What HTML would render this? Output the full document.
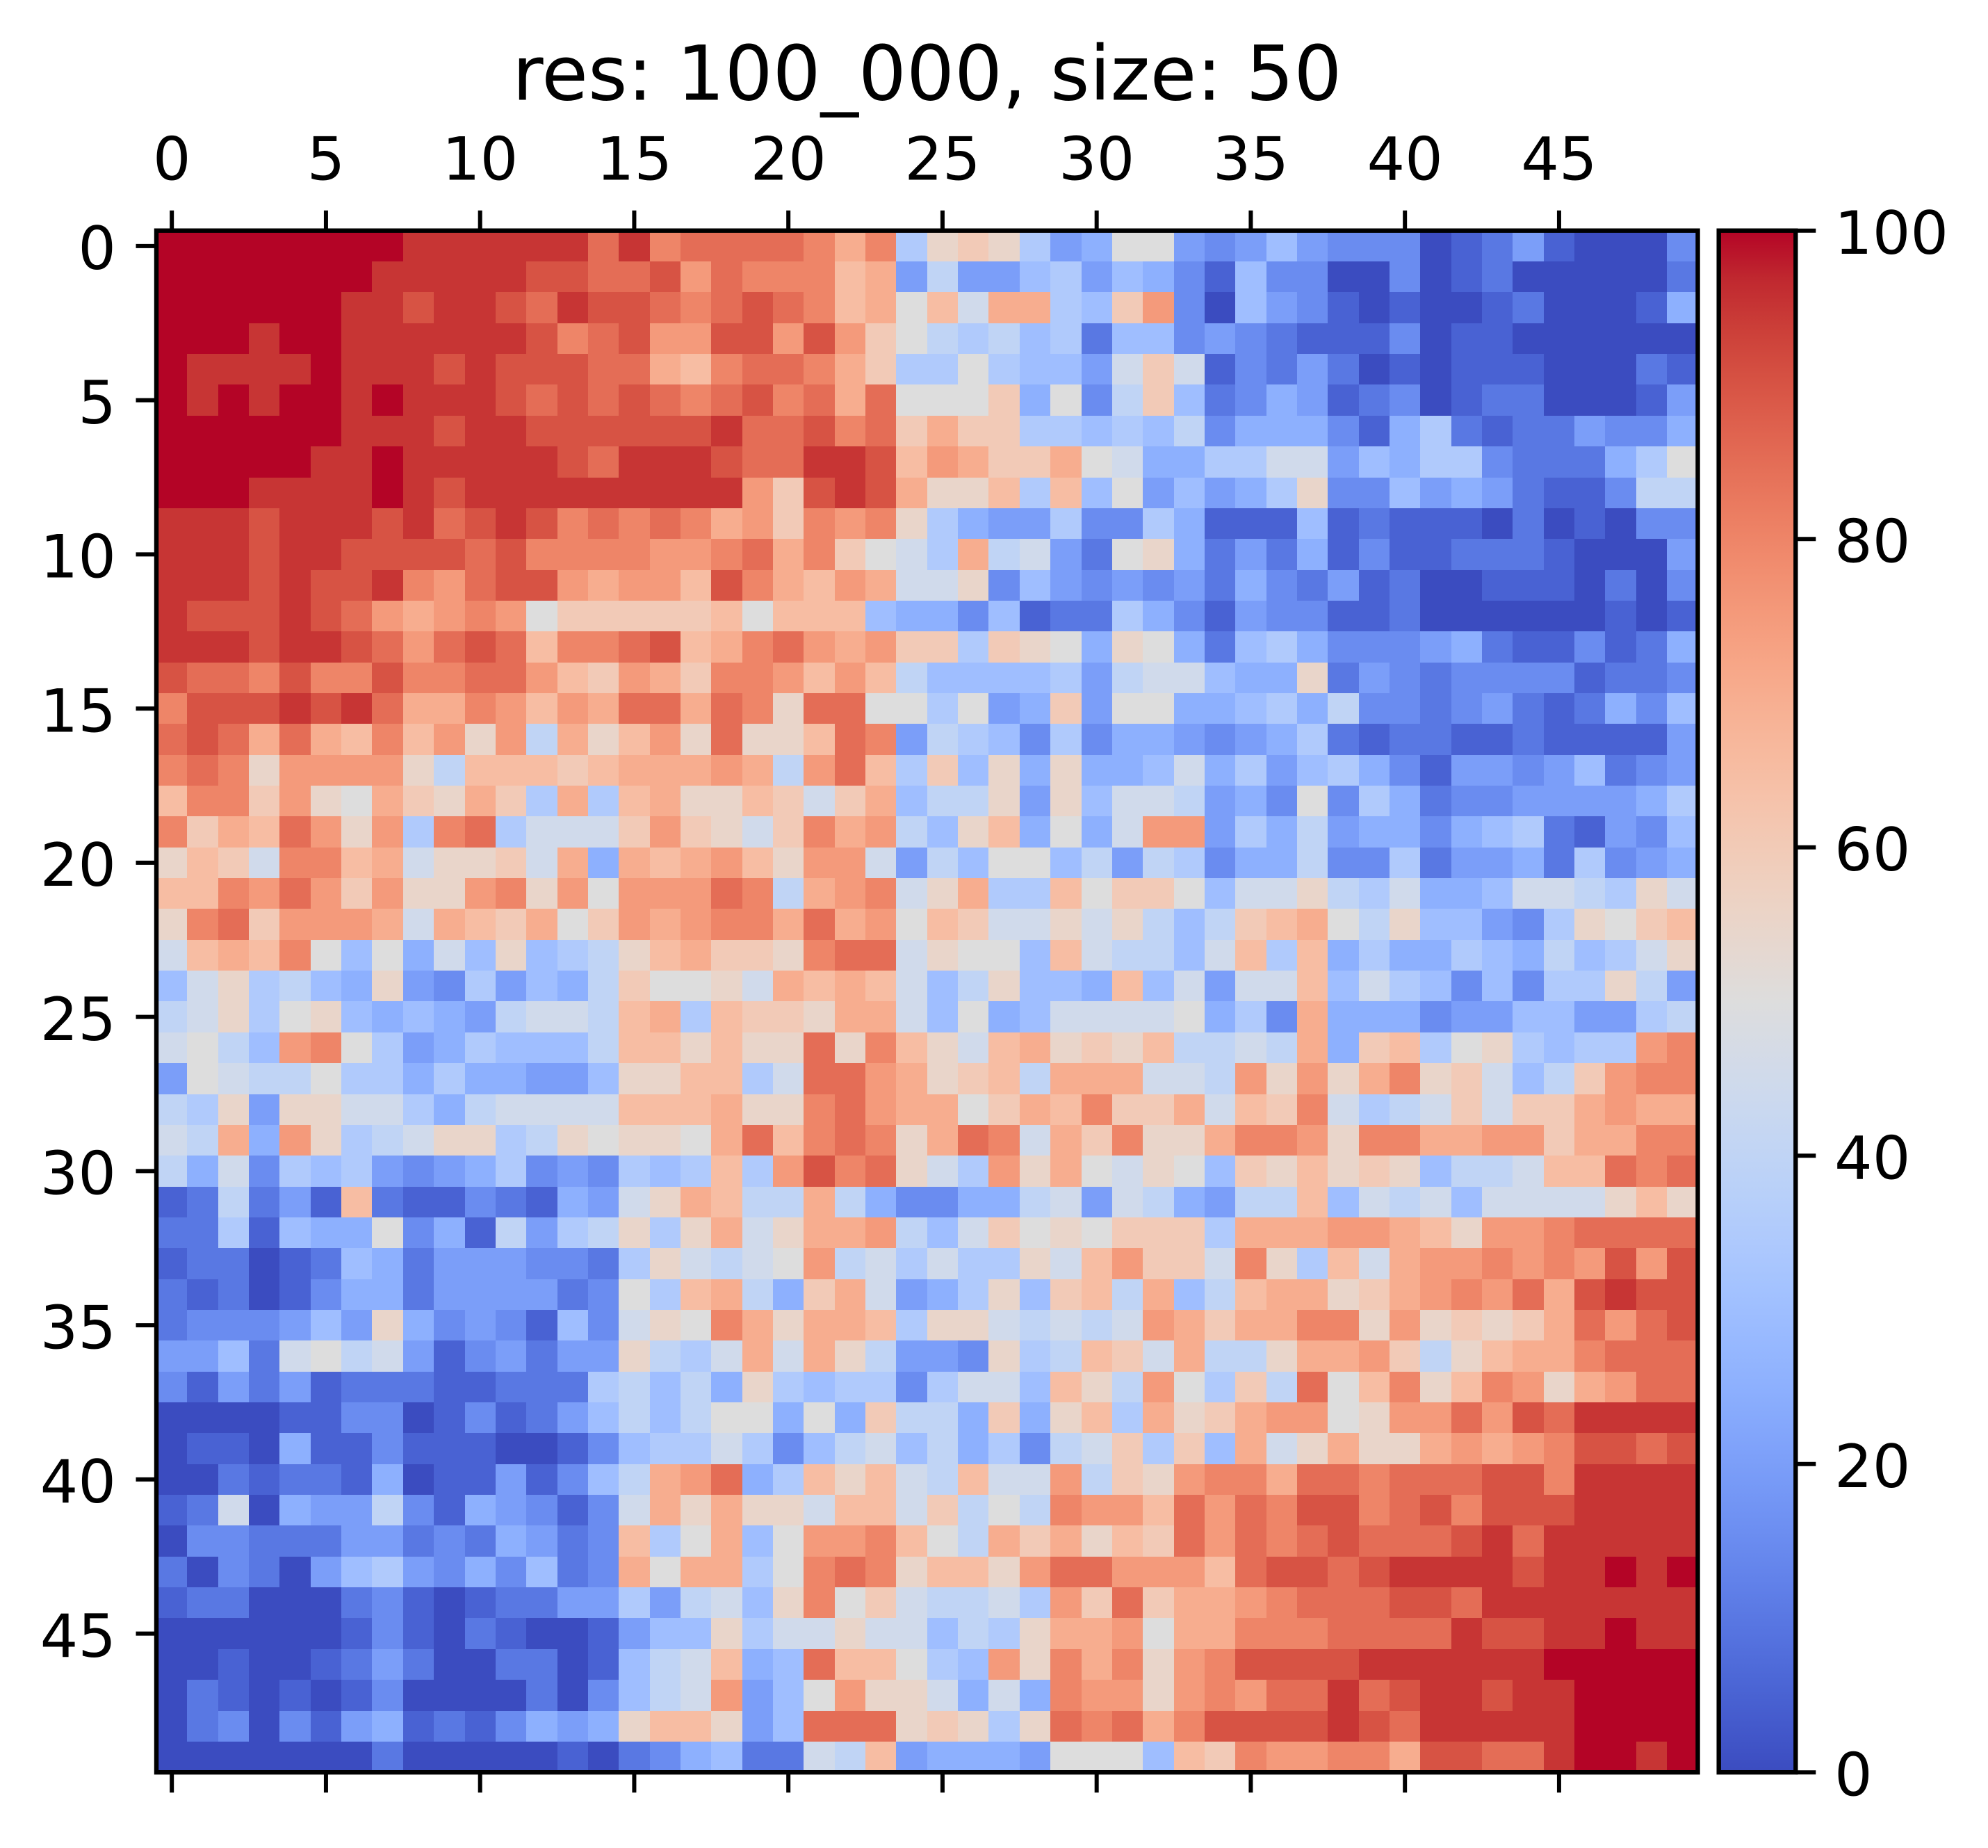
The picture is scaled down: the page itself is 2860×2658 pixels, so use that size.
<!DOCTYPE html>
<html><head><meta charset="utf-8">
<style>
html,body{margin:0;padding:0;background:#fff;}
svg{display:block;}
</style></head>
<body>
<svg id="s" width="2860" height="2658" viewBox="0 0 2860 2658" xmlns="http://www.w3.org/2000/svg" font-family="'DejaVu Sans','Liberation Sans',sans-serif" fill="#000">
<defs><linearGradient id="cb" x1="0" y1="1" x2="0" y2="0"></linearGradient></defs>
<rect x="0" y="0" width="2860" height="2658" fill="#fff"/>
<g id="hm" shape-rendering="crispEdges"></g>
<rect x="2472.7" y="331.7" width="110.6" height="2217.5" fill="url(#cb)"/>
<rect x="225" y="331.7" width="2217.5" height="2217.5" fill="none" stroke="#000" stroke-width="6.4"/>
<rect x="2472.7" y="331.7" width="110.6" height="2217.5" fill="none" stroke="#000" stroke-width="6.4"/>
<g stroke="#000" stroke-width="6">
<line x1="247.18" y1="302.7" x2="247.18" y2="331.7"/>
<line x1="468.93" y1="302.7" x2="468.93" y2="331.7"/>
<line x1="690.68" y1="302.7" x2="690.68" y2="331.7"/>
<line x1="912.43" y1="302.7" x2="912.43" y2="331.7"/>
<line x1="1134.18" y1="302.7" x2="1134.18" y2="331.7"/>
<line x1="1355.93" y1="302.7" x2="1355.93" y2="331.7"/>
<line x1="1577.68" y1="302.7" x2="1577.68" y2="331.7"/>
<line x1="1799.43" y1="302.7" x2="1799.43" y2="331.7"/>
<line x1="2021.18" y1="302.7" x2="2021.18" y2="331.7"/>
<line x1="2242.93" y1="302.7" x2="2242.93" y2="331.7"/>
<line x1="247.18" y1="2549.2" x2="247.18" y2="2578.3"/>
<line x1="468.93" y1="2549.2" x2="468.93" y2="2578.3"/>
<line x1="690.68" y1="2549.2" x2="690.68" y2="2578.3"/>
<line x1="912.43" y1="2549.2" x2="912.43" y2="2578.3"/>
<line x1="1134.18" y1="2549.2" x2="1134.18" y2="2578.3"/>
<line x1="1355.93" y1="2549.2" x2="1355.93" y2="2578.3"/>
<line x1="1577.68" y1="2549.2" x2="1577.68" y2="2578.3"/>
<line x1="1799.43" y1="2549.2" x2="1799.43" y2="2578.3"/>
<line x1="2021.18" y1="2549.2" x2="2021.18" y2="2578.3"/>
<line x1="2242.93" y1="2549.2" x2="2242.93" y2="2578.3"/>
<line x1="195.5" y1="353.88" x2="225" y2="353.88"/>
<line x1="195.5" y1="575.63" x2="225" y2="575.63"/>
<line x1="195.5" y1="797.38" x2="225" y2="797.38"/>
<line x1="195.5" y1="1019.13" x2="225" y2="1019.13"/>
<line x1="195.5" y1="1240.88" x2="225" y2="1240.88"/>
<line x1="195.5" y1="1462.63" x2="225" y2="1462.63"/>
<line x1="195.5" y1="1684.38" x2="225" y2="1684.38"/>
<line x1="195.5" y1="1906.13" x2="225" y2="1906.13"/>
<line x1="195.5" y1="2127.88" x2="225" y2="2127.88"/>
<line x1="195.5" y1="2349.63" x2="225" y2="2349.63"/>
<line x1="2583.3" y1="2549.2" x2="2612.3" y2="2549.2"/>
<line x1="2583.3" y1="2105.7" x2="2612.3" y2="2105.7"/>
<line x1="2583.3" y1="1662.2" x2="2612.3" y2="1662.2"/>
<line x1="2583.3" y1="1218.7" x2="2612.3" y2="1218.7"/>
<line x1="2583.3" y1="775.2" x2="2612.3" y2="775.2"/>
<line x1="2583.3" y1="331.7" x2="2612.3" y2="331.7"/>
</g>
<text x="1333.75" y="143.3" font-size="108.5" text-anchor="middle">res: 100_000, size: 50</text>
<g font-size="86" text-anchor="middle">
<text x="247.18" y="258.3">0</text>
<text x="468.93" y="258.3">5</text>
<text x="690.68" y="258.3">10</text>
<text x="912.43" y="258.3">15</text>
<text x="1134.18" y="258.3">20</text>
<text x="1355.93" y="258.3">25</text>
<text x="1577.68" y="258.3">30</text>
<text x="1799.43" y="258.3">35</text>
<text x="2021.18" y="258.3">40</text>
<text x="2242.93" y="258.3">45</text>
</g>
<g font-size="86" text-anchor="end">
<text x="167" y="387.1">0</text>
<text x="167" y="608.9">5</text>
<text x="167" y="830.6">10</text>
<text x="167" y="1052.4">15</text>
<text x="167" y="1274.1">20</text>
<text x="167" y="1495.9">25</text>
<text x="167" y="1717.6">30</text>
<text x="167" y="1939.4">35</text>
<text x="167" y="2161.1">40</text>
<text x="167" y="2382.9">45</text>
</g>
<g font-size="86" text-anchor="start">
<text x="2639" y="2582.7">0</text>
<text x="2639" y="2139.2">20</text>
<text x="2639" y="1695.7">40</text>
<text x="2639" y="1252.2">60</text>
<text x="2639" y="808.7">80</text>
<text x="2639" y="365.2">100</text>
</g>
</svg>
<script>
(function(){
var T=[[59,76,192],[68,90,204],[77,104,215],[87,117,225],[98,130,234],[108,142,241],[119,154,247],[130,165,251],[141,176,254],[152,185,255],[163,194,255],[174,201,253],[184,208,249],[194,213,244],[204,217,238],[213,219,230],[221,221,221],[229,216,209],[236,211,197],[241,204,185],[245,196,173],[247,187,160],[247,177,148],[247,166,135],[244,154,123],[241,141,111],[236,127,99],[229,112,88],[222,96,77],[213,80,66],[203,62,56],[192,40,47],[180,4,38]];
function cm(v){v=Math.max(0,Math.min(1,v));var x=v*32;var i=Math.min(31,Math.floor(x));var f=x-i;var a=T[i],b=T[i+1];
return [Math.round(a[0]+(b[0]-a[0])*f),Math.round(a[1]+(b[1]-a[1])*f),Math.round(a[2]+(b[2]-a[2])*f)];}
var R=[
["UUUUUUUUTTTTTTRTQRRRRQOQH","LMLHEFKKEDEGEDDDABCEBAAAD"],
["UUUUUUUTTTTTSSRRSPRQQQNOE","IEEGHEGFDBGDDAADABCAAAAAC"],
["UUUUUUTTSTTSRTSSRQRSRQNOK","NJOOHGMPDAGEDBABAABCAAABF"],
["UUUTUUTTTTTTSQRSPPSSPSPMK","IHIGHCGGDEDCBBBDABBAAAAAA"],
["UTTTTUTTTSTSSSRRONQRRQOMH","HKHGGEJMJBDCECABABBBAAACB"],
["UTUTUUTUTTTSRSRSRQRSQRORK","KKMFKDIMGCDFEBCDABCCAAABE"],
["UUUUUUTTTSTTSSSSSSTRRSQRM","OMMHHGHGIDFFFDBFHCBCCEDDF"],
["UUUUUTTUTTTTTSRTTTSRRTTSN","POMMOKJFFHHJJEGFHHDCCCFHK"],
["UUUTTTTUTSTTTTTTTTTPMSTSO","LLNHNGKEGEFHLDDGEFECBBDII"],
["TTTSTTTSTRSTSQRQRQOPMQPQL","HFEEHDDHFBBBGBCBBBACABADD"],
["TTTSTTSSSSRSQQQQPPQROQMKJ","HOIJECKLFCECFBDBBCCCBAAAE"],
["TTTSTSSTQPRSSPOPPNSQONPOJ","JLDGEDEDECFDCEBCAABBBACAD"],
["TSSSTSRPOPQPKMMMMMNKNNNGF","FDGBCCHFDBEDDBBCAAAAAABAB"],
["TTTSTTSRPRSRNQQRSNOQRPOPM","MHMLKFLKFCGHFDDDEFCBBDBCF"],
["SRRQSQQSQQRRPNMPOMQQPNPNI","GGGGHEIJJGFFLCEDCDDDDBCCD"],
["QSSSTSTROOQPNPORRORQLRRKK","HKEFMEKKFFGHFIDDCDECBCFDG"],
["RSRORONQNPLPIOLNPLRLLNRQE","IHGDHDFFEDEFHCBCCBBCBBBBE"],
["QRQLPPPPLINNNMNOOOPOIPRNH","MGLFLFFGJFHEGHFDBEEDEGCDE"],
["NQQMPLKOMLOMHOHNOLLNMJMOG","IILELGJJIEFDKDHFCDDEEEEFH"],
["QMONRPLPHQRHJJJMPMLJMQOPI","GLNFKFJPPEHFIEFFDFGHCBEDG"],
["LNMJQQNOJLLMJOFONOPNLPPJE","IGKKGIEIHDFFIDDHCEEFCHDEF"],
["NNQPRPMPLLPQLPKPPPRQIOPQJ","LOHHNKMMKGJJLIHJFFGJJIHLJ"],
["LQRMPPPOJONMOKMPOPQQOROPK","NMJJLJLIGIMNOKILGGEDHLKMN"],
["JNONQKGKFJGLGHILNOMMLQRRJ","LKKGNJIIGJNHNFHFFHGFIGHJL"],
["GJLHIGFLEDHEGFIMKKLJONONJ","GILGGFNGJEJJNGJHGDGDHHLIE"],
["IJLHKLGFGFEIJJINOHNMMLOOJ","GKFGJJJJKFHDOFFFDEEGGEEHI"],
["JKIGPQKHEFHGGGINNLNLLRLQN","LJNOLMLNIIJIOFMNHKLHGHHPQ"],
["EKJIIKHHFHFFEEGLLNNHJRRPO","LMNIOOOJJIPLPLOQLMJGIMPQQ"],
["IHLELLJJHFIJJJJNNNOLLQRPO","OKMONQMMOJNMQJHIJMJMMOPOO"],
["JIOFPLHIJLLHILKLLKORNQRQL","ORQJOMQLLOQQPLQQOOPPMOOQQ"],
["IFJDHGHEDEFHDEDHGHNHPSQRL","JHPLOKJLKGMLNLMLGIIJNNRQR"],
["BCICEBNCBBDCBFEJLONIIOIFD","DFFIJEJIFEIINGJIJGJJJJLNL"],
["CCHBGFFKDFBIEHILHLOJLOOPI","GJMKLKMMMHOOOPPONLPPQRRRR"],
["BCCABCGFCEEEDDCHLJIJKPIJH","JHHLJNPMMJQLHNJOPPQPQPSPS"],
["CBCABDFFCEEEECDKHNOIFMOJE","FHLGMNIOGINOOLMOPQPROSTSS"],
["CDDDEGELFDEDBGDJLKQOLOONH","LLJIJIJPOMOOQQLPLMLMORPRS"],
["EEGCJKIJEBDECEELIHJOJOLIE","EDLHINMJOIILOOPMILNOOQRRR"],
["DBECEBCCCBBCCCHIGIFLHGHHD","HJJGNLIPKHMIRKNQLNQPLOPRR"],
["AAAABBDDABDBCEGIGIKKFKFMI","IFMFLNHOLMOPPKLPPRPSRTTTT"],
["ABBAFBBDBBBAABDGHHJHDGIJG","IFHDIJMHMGOJLOLLOPOPQSSRS"],
["AACBCCBFABBEBDGIOPRFHNLNJ","INJJPIMLPQQORRQRRRSSQTTTT"],
["BCJAFEEIDBFEDBDJOLOLLJNNJ","MIKIQPPNRPRQSSQRSQSSSTTTT"],
["ADDCCCEECDCFECDNHKOGKPPQN","KIOMOLNMRPRQRSRRRSTRTTTTT"],
["CADCAEGHEDFDGCDOKOOHKQRQL","NNLPRRPPPNRSSRSTTTTSTTUTU"],
["BCCAAACDBABCCEEHEIJGLQKMJ","IIJHPMRMOOPQRRRSSRTTTTTTT"],
["AAAAAABDBACBAABEGGLHJJLJJ","GIHLOOPKOOQQQRRRRTSSTTUTT"],
["AABAABCECAACCABGIJNFGRNNK","HGPLQOQLPQSSSSTTTTTTUUUUU"],
["ACBABABDAAAACADGIJPEGKPLL","JFJFQPPLPQPRRTRSTTSTTUUUU"],
["ACDADBEFBCBDFEFLNNLEGRRRL","MLHLRQROQSSSSTSRTTTTTUUUU"],
["AAAAAAACAAAAABACDFGCCJINE","FFFEKKKGNMQPPQQOSSRRTUUTU"]
];
function fix(s){while(s.length<25)s+=s.charAt(s.length-1)||'K';return s.substring(0,25);}
var X0=225,Y0=331.7,C=44.35,h='';
for(var r=0;r<50;r++){
 var s=fix(R[r][0])+fix(R[r][1]);
 var y1=Math.round(Y0+r*C),y2=Math.round(Y0+(r+1)*C);
 for(var c=0;c<50;c++){
  var v=(s.charCodeAt(c)-65)*5;
  var col=cm(v/100);
  var x1=Math.round(X0+c*C),x2=Math.round(X0+(c+1)*C);
  h+='<rect x="'+x1+'" y="'+y1+'" width="'+(x2-x1)+'" height="'+(y2-y1)+'" fill="rgb('+col.join(',')+')"/>';
 }
}
document.getElementById('hm').innerHTML=h;
var g='';
for(var k=0;k<=32;k++){g+='<stop offset="'+(k/32)+'" stop-color="rgb('+T[k].join(',')+')"/>';}
document.getElementById('cb').innerHTML=g;
})();
</script>
</body></html>
